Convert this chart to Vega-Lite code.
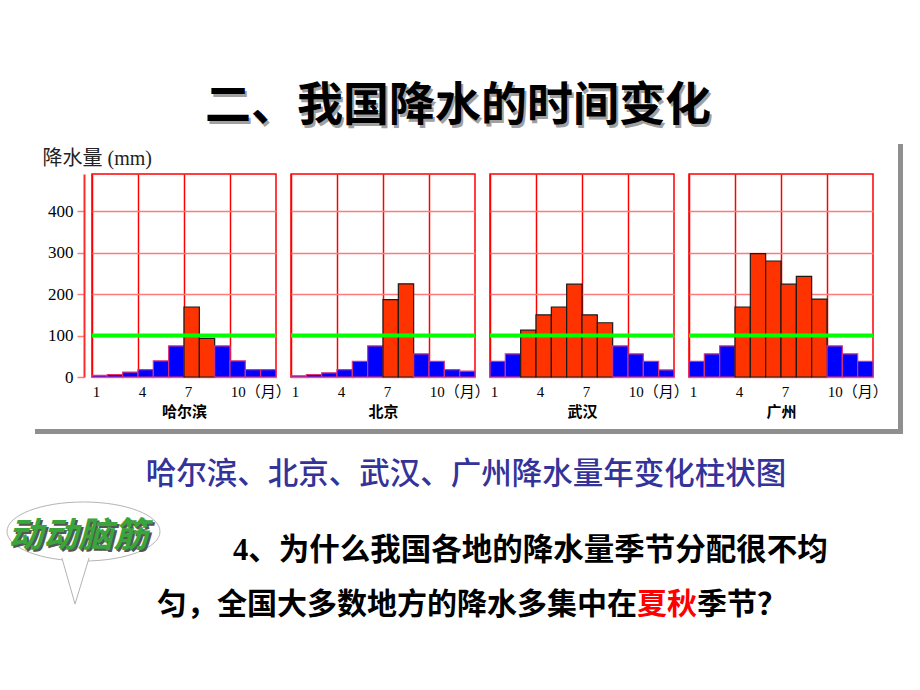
{
  "$schema": "https://vega.github.io/schema/vega-lite/v6.json",
  "padding": {"left": 4, "top": 82, "right": 0, "bottom": 0},
  "background": "white",
  "datasets": {
    "rain": [
      {"city": "哈尔滨", "month": 1, "precip": 4, "season": "少雨"},
      {"city": "哈尔滨", "month": 2, "precip": 6, "season": "少雨"},
      {"city": "哈尔滨", "month": 3, "precip": 12, "season": "少雨"},
      {"city": "哈尔滨", "month": 4, "precip": 18, "season": "少雨"},
      {"city": "哈尔滨", "month": 5, "precip": 39, "season": "少雨"},
      {"city": "哈尔滨", "month": 6, "precip": 75, "season": "少雨"},
      {"city": "哈尔滨", "month": 7, "precip": 169, "season": "多雨"},
      {"city": "哈尔滨", "month": 8, "precip": 93, "season": "多雨"},
      {"city": "哈尔滨", "month": 9, "precip": 75, "season": "少雨"},
      {"city": "哈尔滨", "month": 10, "precip": 39, "season": "少雨"},
      {"city": "哈尔滨", "month": 11, "precip": 18, "season": "少雨"},
      {"city": "哈尔滨", "month": 12, "precip": 18, "season": "少雨"},
      {"city": "北京", "month": 1, "precip": 3, "season": "少雨"},
      {"city": "北京", "month": 2, "precip": 6, "season": "少雨"},
      {"city": "北京", "month": 3, "precip": 10, "season": "少雨"},
      {"city": "北京", "month": 4, "precip": 18, "season": "少雨"},
      {"city": "北京", "month": 5, "precip": 38, "season": "少雨"},
      {"city": "北京", "month": 6, "precip": 75, "season": "少雨"},
      {"city": "北京", "month": 7, "precip": 187, "season": "多雨"},
      {"city": "北京", "month": 8, "precip": 225, "season": "多雨"},
      {"city": "北京", "month": 9, "precip": 56, "season": "少雨"},
      {"city": "北京", "month": 10, "precip": 38, "season": "少雨"},
      {"city": "北京", "month": 11, "precip": 18, "season": "少雨"},
      {"city": "北京", "month": 12, "precip": 14, "season": "少雨"},
      {"city": "武汉", "month": 1, "precip": 38, "season": "少雨"},
      {"city": "武汉", "month": 2, "precip": 56, "season": "少雨"},
      {"city": "武汉", "month": 3, "precip": 113, "season": "多雨"},
      {"city": "武汉", "month": 4, "precip": 150, "season": "多雨"},
      {"city": "武汉", "month": 5, "precip": 169, "season": "多雨"},
      {"city": "武汉", "month": 6, "precip": 224, "season": "多雨"},
      {"city": "武汉", "month": 7, "precip": 150, "season": "多雨"},
      {"city": "武汉", "month": 8, "precip": 131, "season": "多雨"},
      {"city": "武汉", "month": 9, "precip": 75, "season": "少雨"},
      {"city": "武汉", "month": 10, "precip": 56, "season": "少雨"},
      {"city": "武汉", "month": 11, "precip": 38, "season": "少雨"},
      {"city": "武汉", "month": 12, "precip": 17, "season": "少雨"},
      {"city": "广州", "month": 1, "precip": 38, "season": "少雨"},
      {"city": "广州", "month": 2, "precip": 56, "season": "少雨"},
      {"city": "广州", "month": 3, "precip": 75, "season": "少雨"},
      {"city": "广州", "month": 4, "precip": 169, "season": "多雨"},
      {"city": "广州", "month": 5, "precip": 298, "season": "多雨"},
      {"city": "广州", "month": 6, "precip": 280, "season": "多雨"},
      {"city": "广州", "month": 7, "precip": 224, "season": "多雨"},
      {"city": "广州", "month": 8, "precip": 243, "season": "多雨"},
      {"city": "广州", "month": 9, "precip": 188, "season": "多雨"},
      {"city": "广州", "month": 10, "precip": 75, "season": "少雨"},
      {"city": "广州", "month": 11, "precip": 56, "season": "少雨"},
      {"city": "广州", "month": 12, "precip": 38, "season": "少雨"}
    ]
  },
  "data": {"name": "rain"},
  "spacing": 15,
  "bounds": "flush",
  "hconcat": [
    {
      "width": 184, "height": 203,
      "layer": [
        {"data": {"values": [{"k": 1}]}, "mark": {"type": "rect", "x": 806, "x2": 811, "y": -30, "y2": 260, "fill": "#8f8f8f"}, "encoding": {}},
        {"data": {"values": [{"k": 1}]}, "mark": {"type": "rect", "x": -57, "x2": 811, "y": 255, "y2": 260, "fill": "#8f8f8f"}, "encoding": {}},
        {
          "transform": [{"filter": "datum.city === '哈尔滨'"}],
          "mark": {"type": "bar", "strokeWidth": 1.2},
          "encoding": {
            "x": {"field": "month", "type": "ordinal", "scale": {"paddingInner": 0, "paddingOuter": 0},
              "axis": {"values": [1, 4, 7, 10], "bandPosition": 0, "labelAngle": 0, "labelAlign": "left", "labelOffset": -7, "labelExpr": "datum.value == 10 ? '10（月）' : datum.label", "labelFont": "Liberation Serif, Noto Sans CJK SC", "labelFontSize": 15, "labelColor": "#000000", "labelPadding": 7, "labelOverlap": false, "ticks": false, "domain": false, "grid": true, "gridColor": "#ff0000", "gridWidth": 1.5, "title": "哈尔滨", "titleFont": "Noto Sans CJK SC", "titleFontSize": 15, "titleFontWeight": "bold", "titleColor": "#000000", "titlePadding": 5}},
            "y": {"field": "precip", "type": "quantitative", "scale": {"domain": [0, 490], "nice": false, "zero": true},
              "axis": {"values": [0, 100, 200, 300, 400], "grid": true, "gridColor": "#ff7b7b", "gridWidth": 1.5, "domainColor": "#ff2a2a", "domainWidth": 2, "tickColor": "#ff7b7b", "tickSize": 7, "tickWidth": 1.5, "offset": 8, "labelFont": "Liberation Serif", "labelFontSize": 17, "labelColor": "#000000", "labelPadding": 4, "title": "降水量 (mm)", "titleAngle": 0, "titleAlign": "left", "titleBaseline": "alphabetic", "titleX": -42, "titleY": -10, "titleFont": "Liberation Serif, Noto Sans CJK SC", "titleFontSize": 20, "titleFontWeight": "normal", "titleColor": "#222222"}},
            "color": {"field": "season", "type": "nominal", "scale": {"domain": ["多雨", "少雨"], "range": ["#ff3300", "#0000ff"]}, "legend": null},
            "stroke": {"field": "season", "type": "nominal", "scale": {"domain": ["多雨", "少雨"], "range": ["#1a1a1a", "#e0307a"]}, "legend": null}
          }
        },
        {"data": {"values": [{"k": 1}]}, "mark": {"type": "rule", "color": "#00ff00", "strokeWidth": 4}, "encoding": {"y": {"datum": 100}}},
        {"data": {"values": [{"k": 1}]}, "mark": {"type": "point", "x": -8.5, "y": 357.5, "size": 25600, "filled": true, "opacity": 1, "fill": "#ffffff", "stroke": "#b4b4b4", "strokeWidth": 1, "shape": "M 0.956 0 C 0.956 0.204 0.528 0.369 0 0.369 C -0.528 0.369 -0.956 0.204 -0.956 0 C -0.956 -0.204 -0.528 -0.369 0 -0.369 C 0.528 -0.369 0.956 -0.204 0.956 0 Z"}, "encoding": {}},
        {"data": {"values": [{"k": 1}]}, "mark": {"type": "point", "x": -8.5, "y": 357.5, "size": 25600, "filled": true, "opacity": 1, "fill": "#ffffff", "stroke": "#b4b4b4", "strokeWidth": 1, "shape": "M -0.27 0.33 L -0.106 0.906 L 0.07 0.33"}, "encoding": {}},
        {"data": {"values": [{"t": "二、我国降水的时间变化"}]}, "mark": {"type": "text", "x": 368, "y": -87, "align": "center", "baseline": "top", "font": "Noto Sans CJK SC", "fontSize": 46, "fontWeight": "bold", "color": "#a0a0a0"}, "encoding": {"text": {"field": "t"}}},
        {"data": {"values": [{"t": "二、我国降水的时间变化"}]}, "mark": {"type": "text", "x": 366, "y": -90, "align": "center", "baseline": "top", "font": "Noto Sans CJK SC", "fontSize": 46, "fontWeight": "bold", "color": "#000000"}, "encoding": {"text": {"field": "t"}}},
        {"data": {"values": [{"t": "哈尔滨、北京、武汉、广州降水量年变化柱状图"}]}, "mark": {"type": "text", "x": 374, "y": 301, "align": "center", "baseline": "middle", "font": "Noto Sans CJK SC", "fontSize": 30.5, "fontWeight": 500, "color": "#333399"}, "encoding": {"text": {"field": "t"}}},
        {"data": {"values": [{"t": "动动脑筋"}]}, "mark": {"type": "text", "x": -12, "y": 364, "align": "center", "baseline": "middle", "font": "Noto Sans CJK SC", "fontSize": 35, "fontWeight": "bold", "fontStyle": "italic", "color": "#555555"}, "encoding": {"text": {"field": "t"}}},
        {"data": {"values": [{"t": "动动脑筋"}]}, "mark": {"type": "text", "x": -14, "y": 362, "align": "center", "baseline": "middle", "font": "Noto Sans CJK SC", "fontSize": 35, "fontWeight": "bold", "fontStyle": "italic", "color": "#3aa53a"}, "encoding": {"text": {"field": "t"}}},
        {"data": {"values": [{"t": "4、为什么我国各地的降水量季节分配很不均"}]}, "mark": {"type": "text", "x": 141, "y": 377, "align": "left", "baseline": "middle", "font": "Liberation Serif, Noto Sans CJK SC", "fontSize": 30.5, "fontWeight": "bold", "color": "#000000"}, "encoding": {"text": {"field": "t"}}},
        {"data": {"values": [{"t": "匀，全国大多数地方的降水多集中在"}]}, "mark": {"type": "text", "x": 65, "y": 431, "align": "left", "baseline": "middle", "font": "Liberation Serif, Noto Sans CJK SC", "fontSize": 30, "fontWeight": "bold", "color": "#000000"}, "encoding": {"text": {"field": "t"}}},
        {"data": {"values": [{"t": "夏秋"}]}, "mark": {"type": "text", "x": 545, "y": 431, "align": "left", "baseline": "middle", "font": "Liberation Serif, Noto Sans CJK SC", "fontSize": 30, "fontWeight": "bold", "color": "#ff0000"}, "encoding": {"text": {"field": "t"}}},
        {"data": {"values": [{"t": "季节？"}]}, "mark": {"type": "text", "x": 605, "y": 431, "align": "left", "baseline": "middle", "font": "Liberation Serif, Noto Sans CJK SC", "fontSize": 30, "fontWeight": "bold", "color": "#000000"}, "encoding": {"text": {"field": "t"}}}
      ]
    },
    {
      "width": 184, "height": 203,
      "layer": [
        {
          "transform": [{"filter": "datum.city === '北京'"}],
          "mark": {"type": "bar", "strokeWidth": 1.2},
          "encoding": {
            "x": {"field": "month", "type": "ordinal", "scale": {"paddingInner": 0, "paddingOuter": 0},
              "axis": {"values": [1, 4, 7, 10], "bandPosition": 0, "labelAngle": 0, "labelAlign": "left", "labelOffset": -7, "labelExpr": "datum.value == 10 ? '10（月）' : datum.label", "labelFont": "Liberation Serif, Noto Sans CJK SC", "labelFontSize": 15, "labelColor": "#000000", "labelPadding": 7, "labelOverlap": false, "ticks": false, "domain": false, "grid": true, "gridColor": "#ff0000", "gridWidth": 1.5, "title": "北京", "titleFont": "Noto Sans CJK SC", "titleFontSize": 15, "titleFontWeight": "bold", "titleColor": "#000000", "titlePadding": 5}},
            "y": {"field": "precip", "type": "quantitative", "scale": {"domain": [0, 490], "nice": false, "zero": true},
              "axis": {"values": [0, 100, 200, 300, 400], "grid": true, "gridColor": "#ff7b7b", "gridWidth": 1.5, "labels": false, "ticks": false, "domain": false, "title": null}},
            "color": {"field": "season", "type": "nominal", "scale": {"domain": ["多雨", "少雨"], "range": ["#ff3300", "#0000ff"]}, "legend": null},
            "stroke": {"field": "season", "type": "nominal", "scale": {"domain": ["多雨", "少雨"], "range": ["#1a1a1a", "#e0307a"]}, "legend": null}
          }
        },
        {"data": {"values": [{"k": 1}]}, "mark": {"type": "rule", "color": "#00ff00", "strokeWidth": 4}, "encoding": {"y": {"datum": 100}}}
      ]
    },
    {
      "width": 184, "height": 203,
      "layer": [
        {
          "transform": [{"filter": "datum.city === '武汉'"}],
          "mark": {"type": "bar", "strokeWidth": 1.2},
          "encoding": {
            "x": {"field": "month", "type": "ordinal", "scale": {"paddingInner": 0, "paddingOuter": 0},
              "axis": {"values": [1, 4, 7, 10], "bandPosition": 0, "labelAngle": 0, "labelAlign": "left", "labelOffset": -7, "labelExpr": "datum.value == 10 ? '10（月）' : datum.label", "labelFont": "Liberation Serif, Noto Sans CJK SC", "labelFontSize": 15, "labelColor": "#000000", "labelPadding": 7, "labelOverlap": false, "ticks": false, "domain": false, "grid": true, "gridColor": "#ff0000", "gridWidth": 1.5, "title": "武汉", "titleFont": "Noto Sans CJK SC", "titleFontSize": 15, "titleFontWeight": "bold", "titleColor": "#000000", "titlePadding": 5}},
            "y": {"field": "precip", "type": "quantitative", "scale": {"domain": [0, 490], "nice": false, "zero": true},
              "axis": {"values": [0, 100, 200, 300, 400], "grid": true, "gridColor": "#ff7b7b", "gridWidth": 1.5, "labels": false, "ticks": false, "domain": false, "title": null}},
            "color": {"field": "season", "type": "nominal", "scale": {"domain": ["多雨", "少雨"], "range": ["#ff3300", "#0000ff"]}, "legend": null},
            "stroke": {"field": "season", "type": "nominal", "scale": {"domain": ["多雨", "少雨"], "range": ["#1a1a1a", "#e0307a"]}, "legend": null}
          }
        },
        {"data": {"values": [{"k": 1}]}, "mark": {"type": "rule", "color": "#00ff00", "strokeWidth": 4}, "encoding": {"y": {"datum": 100}}}
      ]
    },
    {
      "width": 184, "height": 203,
      "layer": [
        {
          "transform": [{"filter": "datum.city === '广州'"}],
          "mark": {"type": "bar", "strokeWidth": 1.2},
          "encoding": {
            "x": {"field": "month", "type": "ordinal", "scale": {"paddingInner": 0, "paddingOuter": 0},
              "axis": {"values": [1, 4, 7, 10], "bandPosition": 0, "labelAngle": 0, "labelAlign": "left", "labelOffset": -7, "labelExpr": "datum.value == 10 ? '10（月）' : datum.label", "labelFont": "Liberation Serif, Noto Sans CJK SC", "labelFontSize": 15, "labelColor": "#000000", "labelPadding": 7, "labelOverlap": false, "ticks": false, "domain": false, "grid": true, "gridColor": "#ff0000", "gridWidth": 1.5, "title": "广州", "titleFont": "Noto Sans CJK SC", "titleFontSize": 15, "titleFontWeight": "bold", "titleColor": "#000000", "titlePadding": 5}},
            "y": {"field": "precip", "type": "quantitative", "scale": {"domain": [0, 490], "nice": false, "zero": true},
              "axis": {"values": [0, 100, 200, 300, 400], "grid": true, "gridColor": "#ff7b7b", "gridWidth": 1.5, "labels": false, "ticks": false, "domain": false, "title": null}},
            "color": {"field": "season", "type": "nominal", "scale": {"domain": ["多雨", "少雨"], "range": ["#ff3300", "#0000ff"]}, "legend": null},
            "stroke": {"field": "season", "type": "nominal", "scale": {"domain": ["多雨", "少雨"], "range": ["#1a1a1a", "#e0307a"]}, "legend": null}
          }
        },
        {"data": {"values": [{"k": 1}]}, "mark": {"type": "rule", "color": "#00ff00", "strokeWidth": 4}, "encoding": {"y": {"datum": 100}}}
      ]
    }
  ],
  "config": {"view": {"stroke": "#ff0000", "strokeWidth": 1.5}}
}
